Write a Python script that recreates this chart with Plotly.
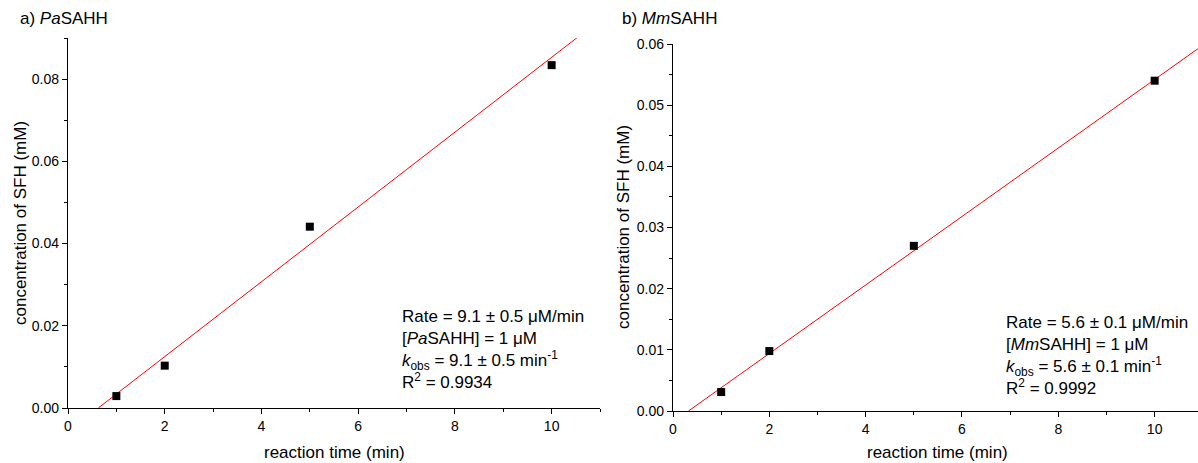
import plotly.graph_objects as go
import numpy as np

# Reaction time points (min)
time_min = [1, 2, 5, 10]

# SFH concentration (mM) for each enzyme
sfh_pa = [0.0029, 0.0103, 0.0441, 0.0834]
sfh_mm = [0.0031, 0.0098, 0.0270, 0.0540]

# Linear fit parameters: rate in µM/min, intercept in mM
rate_pa, intercept_pa = 9.1, -0.0057
rate_mm, intercept_mm = 5.6, -0.0018

panel_titles = ["a) <i>Pa</i>SAHH", "b) <i>Mm</i>SAHH"]
fit_texts = [
    "Rate = 9.1 ± 0.5 μM/min<br>[<i>Pa</i>SAHH] = 1 μM<br>"
    "<i>k</i><sub>obs</sub> = 9.1 ± 0.5 min<sup>-1</sup><br>R<sup>2</sup> = 0.9934",
    "Rate = 5.6 ± 0.1 μM/min<br>[<i>Mm</i>SAHH] = 1 μM<br>"
    "<i>k</i><sub>obs</sub> = 5.6 ± 0.1 min<sup>-1</sup><br>R<sup>2</sup> = 0.9992",
]

FONT = "Arial, Liberation Sans, sans-serif"
W, H = 1198, 463


def px_x(p):
    return p / W


def px_y(p):
    return 1 - p / H


fig = go.Figure()


def fit_line(rate, intercept, xmax):
    slope = rate / 1000.0
    x0 = -intercept / slope
    xs = np.array([x0, xmax])
    return xs, slope * xs + intercept


for i, (ys, rate, icpt) in enumerate(
    [(sfh_pa, rate_pa, intercept_pa), (sfh_mm, rate_mm, intercept_mm)]
):
    xa = "x" if i == 0 else "x2"
    ya = "y" if i == 0 else "y2"
    lx, ly = fit_line(rate, icpt, 11.5)
    fig.add_trace(go.Scatter(x=lx, y=ly, mode="lines", xaxis=xa, yaxis=ya,
                             line=dict(color="#ff0000", width=1),
                             showlegend=False, hoverinfo="skip"))
    fig.add_trace(go.Scatter(x=time_min, y=ys, mode="markers", xaxis=xa, yaxis=ya,
                             marker=dict(symbol="square", size=8, color="black"),
                             showlegend=False))

axis_common = dict(
    showline=True, linecolor="black", linewidth=1.3,
    ticks="outside", ticklen=5, tickwidth=1.3, tickcolor="black",
    showgrid=False, zeroline=False, automargin=False,
    tickfont=dict(family=FONT, size=14, color="black"),
)

fig.update_layout(
    width=W, height=H,
    margin=dict(l=0, r=0, t=0, b=0),
    paper_bgcolor="white", plot_bgcolor="white",
    font=dict(family=FONT, color="black"),
    xaxis=dict(domain=[px_x(68), px_x(600)], range=[0, 11], dtick=2, anchor="y",
               minor=dict(dtick=1, ticks="outside", ticklen=3, tickcolor="black"),
               **axis_common),
    yaxis=dict(domain=[px_y(408), px_y(38)], range=[0, 0.09], dtick=0.02,
               tickformat=".2f", anchor="x",
               minor=dict(dtick=0.01, ticks="outside", ticklen=3, tickcolor="black"),
               **axis_common),
    xaxis2=dict(domain=[px_x(673), 1.0], range=[0, 10.9], dtick=2, anchor="y2",
                minor=dict(dtick=1, ticks="outside", ticklen=3, tickcolor="black"),
                **axis_common),
    yaxis2=dict(domain=[px_y(411), px_y(44)], range=[0, 0.06], dtick=0.01,
                tickformat=".2f", anchor="x2",
                minor=dict(dtick=0.005, ticks="outside", ticklen=3, tickcolor="black"),
                **axis_common),
)

title_font = dict(family=FONT, size=17, color="black")

# Axis titles
for xc in [334, 937]:
    fig.add_annotation(text="reaction time (min)", xref="paper", yref="paper",
                       x=px_x(xc), y=px_y(452), xanchor="center", yanchor="middle",
                       showarrow=False, font=title_font)
for xc, yc in [(20, 223), (623, 227)]:
    fig.add_annotation(text="concentration of SFH (mM)", xref="paper", yref="paper",
                       x=px_x(xc), y=px_y(yc), xanchor="center", yanchor="middle",
                       textangle=-90, showarrow=False, font=title_font)

# Panel labels
for txt, xp in zip(panel_titles, [18, 620]):
    fig.add_annotation(text=txt, xref="paper", yref="paper",
                       x=px_x(xp), y=px_y(18), xanchor="left", yanchor="middle",
                       showarrow=False, font=title_font)

# Fit summary boxes
for txt, xp, yp in zip(fit_texts, [400, 1004], [349, 355]):
    fig.add_annotation(text=txt, xref="paper", yref="paper",
                       x=px_x(xp), y=px_y(yp), xanchor="left", yanchor="middle",
                       align="left", showarrow=False,
                       font=dict(family=FONT, size=17, color="black"))

fig.write_html("out.html")
